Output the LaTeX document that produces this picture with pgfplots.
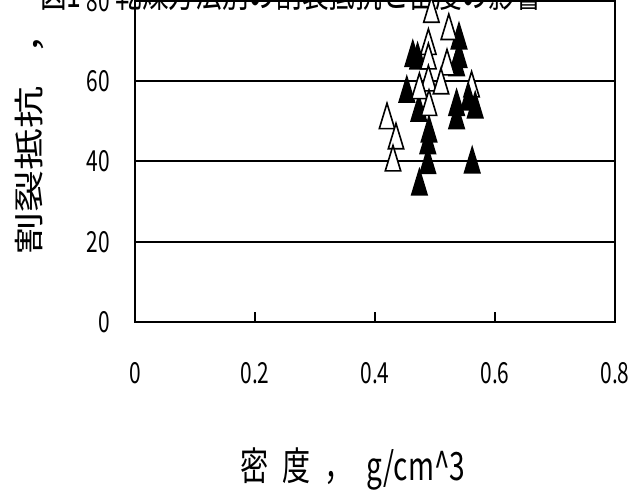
\documentclass[border=0pt]{standalone}
\usepackage{fontspec}
\usepackage{pgfplots}
\pgfplotsset{compat=1.18}
\setmainfont[FakeStretch=0.72]{Noto Sans CJK JP}
\newfontfamily\jpy{Noto Sans CJK JP}
\pgfdeclareplotmark{xtri}{%
  \pgfpathmoveto{\pgfqpoint{0pt}{12.7pt}}%
  \pgfpathlineto{\pgfqpoint{7.7pt}{-12.7pt}}%
  \pgfpathlineto{\pgfqpoint{-7.7pt}{-12.7pt}}%
  \pgfpathclose
  \pgfusepathqfillstroke}
\begin{document}
\begin{tikzpicture}
\node[anchor=base west, inner sep=0pt, font=\fontsize{37pt}{40pt}\selectfont] at (40pt,-7pt) {図1\hspace{34pt}乾燥方法別の割裂抵抗と密度の影響};
\begin{axis}[
  at={(135pt,-322pt)}, anchor=south west,
  scale only axis, width=480pt, height=321.3pt,
  xmin=0, xmax=0.8, ymin=0, ymax=80,
  xtick={0,0.2,0.4,0.6,0.8}, xticklabels={0,0.2,0.4,0.6,0.8},
  ytick={0,20,40,60,80}, yticklabels={0,20,40,60,80},
  ymajorgrids, grid style={black, line width=2pt},
  axis line style={black, line width=2pt},
  tick style={black, line width=1.5pt},
  tick align=inside, xtick pos=left, ytick pos=left,
  major tick length=10pt,
  clip=false,
  ticklabel style={font=\fontsize{29pt}{32pt}\selectfont, /pgf/number format/assume math mode=true},
  xticklabel style={anchor=north, inner sep=0pt, yshift=-40pt},
  yticklabel style={anchor=east, inner sep=0pt, xshift=-25pt, fill=white},
]
% black series (first)
\addplot[only marks, mark=xtri, mark options={fill=black, draw=black, line width=1.6pt}] coordinates {
 (0.463,66.8) (0.471,66.2) (0.540,71.2) (0.540,66.6) (0.536,64.5)
 (0.453,57.9) (0.473,53.2) (0.490,48.0) (0.488,45.1) (0.488,40.2)
 (0.474,34.8) (0.562,40.3)
};
% white series
\addplot[only marks, mark=xtri, mark options={fill=white, draw=black, line width=1.6pt}] coordinates {
 (0.494,77.8) (0.523,73.5) (0.489,69.8) (0.489,66.2) (0.520,64.7)
 (0.489,60.7) (0.510,60.0) (0.474,58.8) (0.490,54.6) (0.561,59.2)
 (0.420,51.3) (0.435,46.3) (0.430,40.8)
};
% black series (second)
\addplot[only marks, mark=xtri, mark options={fill=black, draw=black, line width=1.6pt}] coordinates {
 (0.536,54.6) (0.536,51.3) (0.556,56.0) (0.567,54.0)
};
\end{axis}
\node[anchor=base west, inner sep=0pt, font=\fontsize{39pt}{42pt}\selectfont] at (240pt,-480pt) {密\hspace{14pt}度\hspace{14pt}，\hspace{14pt}g/cm\textasciicircum 3};
\node[anchor=base west, inner sep=0pt, cm={0,1,-0.72,0,(0,0)}, font=\jpy\fontsize{42pt}{45pt}\selectfont] at (41pt,-255pt) {割裂抵抗\hspace{32pt}，\hspace{20pt}kgf/cm\textasciicircum 2};
\pgfresetboundingbox
\useasboundingbox (0pt,-490pt) rectangle (641pt,0pt);
\end{tikzpicture}
\end{document}
